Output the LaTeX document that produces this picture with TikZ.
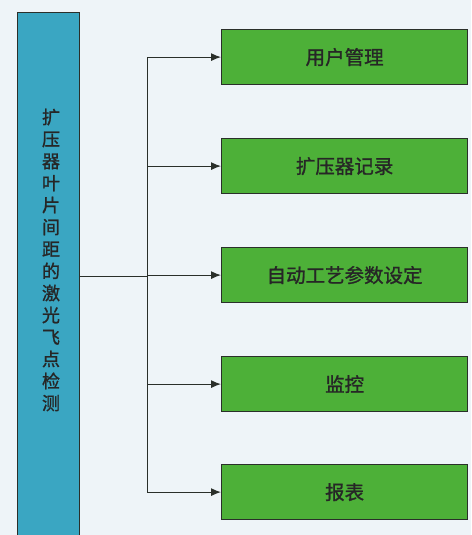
\documentclass[tikz,border=0pt]{standalone}
\usepackage{fontspec}
\newfontfamily\cjk[FakeBold=1.2]{Noto Sans CJK SC}
\usetikzlibrary{arrows.meta,calc}
\definecolor{bgc}{HTML}{EEF4F8}
\definecolor{tealc}{HTML}{3AA6C2}
\definecolor{greenc}{HTML}{4DB038}
\definecolor{linec}{HTML}{2A2F2A}
\tikzset{
  mainbox/.style={draw=linec, line width=1.2pt, fill=tealc, minimum width=62pt, minimum height=528pt, inner sep=0pt, anchor=north west},
  itembox/.style={draw=linec, line width=1.2pt, fill=greenc, minimum width=246pt, minimum height=55pt, inner sep=0pt, anchor=north west, font=\cjk\fontsize{19.5pt}{22pt}\selectfont, text=black!85},
  conn/.style={draw=linec, line width=1pt},
  arr/.style={conn, -{Latex[length=10pt,width=8pt]}}
}
\begin{document}
\begin{tikzpicture}[x=1pt,y=-1pt]
\fill[bgc] (0,0) rectangle (471,535);
\useasboundingbox (0,0) rectangle (471,535);
\node[mainbox] (main) at (17,12) {};
\node[align=center, font=\cjk\fontsize{18pt}{22pt}\selectfont, text=black!85] (maintext) at (51,260) {扩\\压\\器\\叶\\片\\间\\距\\的\\激\\光\\飞\\点\\检\\测};
\node[itembox] (b1) at (221,29) {用户管理};
\node[itembox] (b2) at (221,138) {扩压器记录};
\node[itembox] (b3) at (221,247) {自动工艺参数设定};
\node[itembox] (b4) at (221,356) {监控};
\node[itembox] (b5) at (221,464) {报表};
\coordinate (j) at (147,276);
\draw[conn] (main.east |- j) -- (j);
\draw[conn] (j |- b1) -- (j |- b5);
\foreach \b in {b1,b2,b3,b4,b5}{
  \draw[arr] (j |- \b) -- (\b.west);
}
\end{tikzpicture}
\end{document}
